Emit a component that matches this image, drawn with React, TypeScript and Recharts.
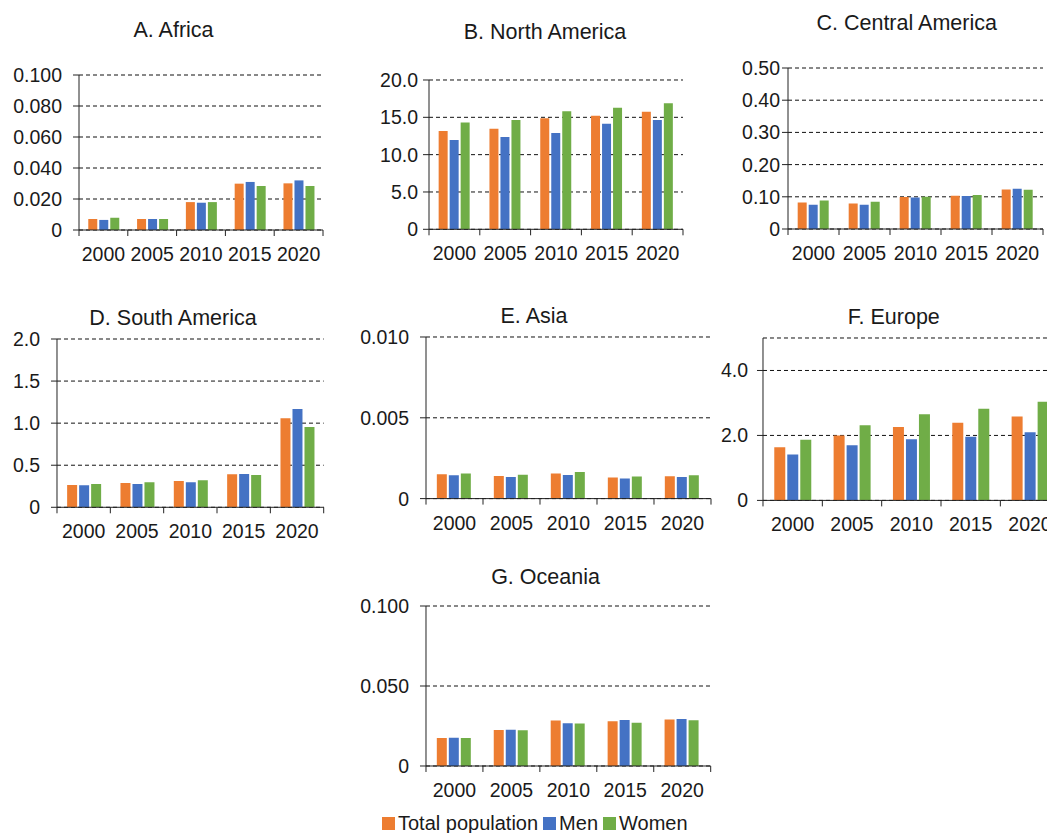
import React from "react";
import { BarChart, Bar, XAxis, YAxis, CartesianGrid } from "recharts";

const years = ["2000", "2005", "2010", "2015", "2020"];
const seriesNames = ["Total population", "Men", "Women"];
const seriesColors = ["#ED7D31", "#4472C4", "#70AD47"];

const africaTotal = [0.0071, 0.0071, 0.018, 0.0299, 0.0301];
const africaMen = [0.0065, 0.0071, 0.0176, 0.031, 0.032];
const africaWomen = [0.0079, 0.0071, 0.018, 0.0284, 0.0284];

const northAmTotal = [13.16, 13.47, 14.86, 15.21, 15.74];
const northAmMen = [11.95, 12.36, 12.89, 14.14, 14.63];
const northAmWomen = [14.32, 14.63, 15.8, 16.28, 16.87];

const centralAmTotal = [0.0826, 0.0795, 0.0994, 0.1034, 0.123];
const centralAmMen = [0.0755, 0.0755, 0.098, 0.1025, 0.125];
const centralAmWomen = [0.0888, 0.0848, 0.1003, 0.1056, 0.122];

const southAmTotal = [0.265, 0.289, 0.312, 0.392, 1.057];
const southAmMen = [0.262, 0.277, 0.297, 0.396, 1.167];
const southAmWomen = [0.277, 0.297, 0.32, 0.384, 0.954];

const asiaTotal = [0.0015, 0.0014, 0.00156, 0.0013, 0.00138];
const asiaMen = [0.00144, 0.00134, 0.00146, 0.00124, 0.00134];
const asiaWomen = [0.00155, 0.00148, 0.00165, 0.00136, 0.00144];

const europeTotal = [1.64, 2.0, 2.26, 2.39, 2.58];
const europeMen = [1.41, 1.7, 1.88, 1.96, 2.1];
const europeWomen = [1.87, 2.31, 2.65, 2.82, 3.04];

const oceaniaTotal = [0.0175, 0.0225, 0.0284, 0.028, 0.029];
const oceaniaMen = [0.0177, 0.0227, 0.0267, 0.0288, 0.0294];
const oceaniaWomen = [0.0175, 0.0223, 0.0265, 0.0271, 0.0286];

const ticksA = [0, 0.02, 0.04, 0.06, 0.08, 0.1];
const ticksB = [0, 5, 10, 15, 20];
const ticksC = [0, 0.1, 0.2, 0.3, 0.4, 0.5];
const ticksD = [0, 0.5, 1, 1.5, 2];
const ticksE = [0, 0.005, 0.01];
const ticksF = [0, 2, 4];
const ticksG = [0, 0.05, 0.1];

const FONT = "'Liberation Sans', Arial, sans-serif";
const FS = 19.5;
const INK = "#1a1a1a";
const AXIS = "#222";
const Y_W = 80;
const T_M = 10;
const R_M = 4;
const X_H = 40;

type PanelProps = {
  title: string;
  total: number[];
  men: number[];
  women: number[];
  ticks: number[];
  domain: [number, number];
  digits: number;
  x: number;
  top: number;
  bottom: number;
  right: number;
  titleX: number;
  titleY: number;
  gap: number;
};

const Panel = (p: PanelProps) => {
  const data = years.map((year, i) => ({
    year,
    total: p.total[i],
    men: p.men[i],
    women: p.women[i],
  }));
  const plotW = p.right - p.x;
  const plotH = p.bottom - p.top;
  const band = plotW / years.length;
  const base = T_M + plotH;
  const width = plotW + Y_W + R_M;
  const height = plotH + T_M + X_H;

  // tick marks sit on the category boundaries, labels in the middle
  const XTick = (props: any) => {
    const { x, payload, index } = props;
    const left = x - band / 2;
    return (
      <g>
        <line x1={left} y1={base} x2={left} y2={base + 6} stroke={AXIS} />
        {index === years.length - 1 && (
          <line x1={left + band} y1={base} x2={left + band} y2={base + 6} stroke={AXIS} />
        )}
        <text
          x={x}
          y={base + 24}
          textAnchor="middle"
          dominantBaseline="central"
          fill={INK}
          fontSize={FS}
          fontFamily={FONT}
        >
          {payload.value}
        </text>
      </g>
    );
  };

  return (
    <>
      <div style={{
        position: "absolute",
        left: p.titleX - 150, top: p.titleY - 12,
        width: 300, lineHeight: "24px",
        textAlign: "center",
        fontFamily: FONT, fontSize: 21.5, color: INK,
      }}>
        {p.title}
      </div>
      <div style={{ position: "absolute", left: p.x - Y_W, top: p.top - T_M }}>
        <BarChart
          width={width}
          height={height}
          data={data}
          margin={{ top: T_M, right: R_M, bottom: 0, left: 0 }}
          barCategoryGap="19%"
          barGap={2}
        >
          <CartesianGrid
            horizontal
            vertical={false}
            stroke="#111"
            strokeDasharray="4 3"
          />
          <XAxis
            dataKey="year"
            height={X_H}
            interval={0}
            axisLine={{ stroke: AXIS }}
            tickLine={false}
            tick={<XTick />}
          />
          <YAxis
            type="number"
            width={Y_W}
            domain={p.domain}
            ticks={p.ticks}
            interval={0}
            allowDataOverflow
            tickFormatter={(v: number) => (v === 0 ? "0" : v.toFixed(p.digits))}
            tickSize={6}
            tickMargin={p.gap - 6}
            axisLine={{ stroke: AXIS }}
            tickLine={{ stroke: AXIS }}
            tick={{ fill: INK, fontSize: FS, fontFamily: FONT }}
          />
          <Bar dataKey="total" name={seriesNames[0]} fill={seriesColors[0]} isAnimationActive={false} />
          <Bar dataKey="men" name={seriesNames[1]} fill={seriesColors[1]} isAnimationActive={false} />
          <Bar dataKey="women" name={seriesNames[2]} fill={seriesColors[2]} isAnimationActive={false} />
        </BarChart>
      </div>
    </>
  );
};

export default function App() {
  return (
    <div style={{
      position: "fixed", left: 0, top: 0,
      width: 1047, height: 833,
      overflow: "hidden", background: "#fff",
    }}>
      <Panel title="A. Africa" total={africaTotal} men={africaMen} women={africaWomen}
        ticks={ticksA} domain={[0, 0.1]} digits={3}
        x={79} top={75} bottom={230} right={323} titleX={173.5} titleY={30} gap={17} />
      <Panel title="B. North America" total={northAmTotal} men={northAmMen} women={northAmWomen}
        ticks={ticksB} domain={[0, 20]} digits={1}
        x={429} top={80} bottom={229.3} right={683} titleX={545} titleY={32} gap={11} />
      <Panel title="C. Central America" total={centralAmTotal} men={centralAmMen} women={centralAmWomen}
        ticks={ticksC} domain={[0, 0.5]} digits={2}
        x={788.3} top={68.3} bottom={229.3} right={1043.3} titleX={906.7} titleY={23.3} gap={8} />
      <Panel title="D. South America" total={southAmTotal} men={southAmMen} women={southAmWomen}
        ticks={ticksD} domain={[0, 2]} digits={1}
        x={57.3} top={339} bottom={507.3} right={324} titleX={173} titleY={318.3} gap={17} />
      <Panel title="E. Asia" total={asiaTotal} men={asiaMen} women={asiaWomen}
        ticks={ticksE} domain={[0, 0.01]} digits={3}
        x={426} top={336.7} bottom={498.3} right={711} titleX={534} titleY={316} gap={17} />
      <Panel title="F. Europe" total={europeTotal} men={europeMen} women={europeWomen}
        ticks={ticksF} domain={[0, 5]} digits={1}
        x={763.3} top={338.3} bottom={500.7} right={1060} titleX={893.8} titleY={316.7} gap={15} />
      <Panel title="G. Oceania" total={oceaniaTotal} men={oceaniaMen} women={oceaniaWomen}
        ticks={ticksG} domain={[0, 0.1]} digits={3}
        x={426} top={605.7} bottom={765.7} right={710.7} titleX={545.5} titleY={576.7} gap={17} />
      <div style={{
        position: "absolute", left: 382, top: 811, height: 24,
        display: "flex", alignItems: "center",
        fontFamily: FONT, fontSize: 20, color: INK, whiteSpace: "nowrap",
      }}>
        {seriesNames.map((name, i) => (
          <span key={name} style={{ display: "flex", alignItems: "center", marginRight: 5 }}>
            <span style={{ width: 13, height: 13, background: seriesColors[i], marginRight: 3 }} />
            {name}
          </span>
        ))}
      </div>
    </div>
  );
}
